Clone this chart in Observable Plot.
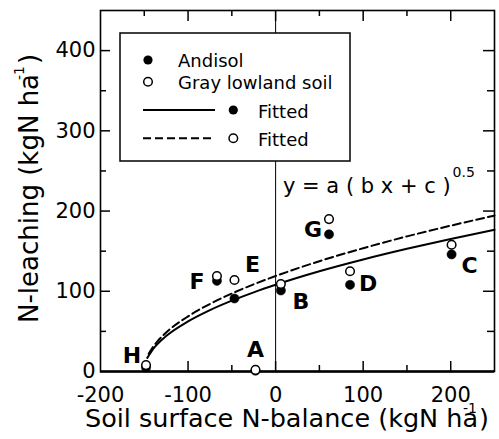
<!DOCTYPE html>
<html><head><meta charset="utf-8">
<script src="https://cdn.jsdelivr.net/npm/d3@7"></script>
<script src="https://cdn.jsdelivr.net/npm/@observablehq/plot@0.6"></script>
<style>body{margin:0;background:#fff} svg{display:block}</style>
</head><body><div id="chart"></div>
<script>
// ---- data ----
const sites = ["H", "F", "E", "A", "B", "D", "C", "G"];
const balance = [-148, -67, -47, -23, 6, 85, 201, 61];          // soil surface N-balance
const andisolLeach = [5, 113, 91, 1, 101, 108, 146, 171];        // Andisol (filled)
const grayLeach = [8, 119, 114, 2, 109, 125, 158, 190];          // Gray lowland soil (open)
// fitted curves, points
const fitAndisolX = [-146.6, -145, -140, -135, -125, -100, -75, -50, -25, 0, 50, 100, 150, 200, 250];
const fitAndisolY = [17, 19.7, 27.9, 34.2, 44.2, 62.4, 76.5, 88.3, 98.7, 108.1, 124.9, 139.6, 152.9, 165.2, 176.6];
const fitGrayX = [-145, -140, -135, -125, -100, -75, -50, -25, 0, 50, 100, 150, 200, 250];
const fitGrayY = [22, 30.7, 37.6, 48.6, 68.7, 84.2, 97.2, 108.7, 119, 137.5, 153.7, 168.4, 181.8, 194.4];
const xTickLabels = [-200, -100, 0, 100, 200];
const yTickLabels = [0, 100, 200, 300, 400];
const xTickMarks = [-150, -100, -50, 0, 50, 100, 150, 200];
const yTickMarks = [50, 100, 150, 200, 250, 300, 350, 400];
const legendLabels = ["Andisol", "Gray lowland soil", "Fitted", "Fitted"];
const xTitle = ["Soil surface N-balance (kgN ha", "-1", ")"];
const yTitle = ["N-leaching (kgN ha", "-1", ")"];
const equation = ["y = a ( b x + c )", "0.5"];

// ---- layout ----
const W = 499, H = 439, mL = 100, mR = 5, mT = 10, mB = 68;
const innerH = H - mT - mB;
const innerW = W - mL - mR;
const labelOffsets = {H: [-14, -9], F: [-20, 6], E: [18, -15], A: [0, -20], B: [20, 18], D: [18, 13], C: [18, 21], G: [-16, 11]};

const pts = sites.map((s, i) => ({site: s, x: balance[i], a: andisolLeach[i], g: grayLeach[i]}));
const curveA = fitAndisolX.map((x, i) => ({x, y: fitAndisolY[i]}));
const curveG = fitGrayX.map((x, i) => ({x, y: fitGrayY[i]}));
const isMajor = v => v % 100 === 0;

const labelMarks = sites.map(s => Plot.text(pts.filter(d => d.site === s), {
  x: "x", y: "g", text: "site", dx: labelOffsets[s][0], dy: labelOffsets[s][1],
  fontSize: 22, fontWeight: "bold", fill: "#000"
}));

const chart = Plot.plot({
  width: W, height: H, marginLeft: mL, marginRight: mR, marginTop: mT, marginBottom: mB,
  x: {domain: [-200, 250]},
  y: {domain: [0, 450]},
  style: {fontFamily: "DejaVu Sans", background: "#fff", color: "#000"},
  marks: [
    Plot.axisX(xTickLabels, {tickSize: 0, tickPadding: 16, fontSize: 21, tickFormat: d => String(d), label: null}),
    Plot.axisY(yTickLabels, {tickSize: 0, tickPadding: 5, fontSize: 21, tickFormat: d => String(d), label: null}),
    Plot.ruleX([0], {stroke: "#000", strokeWidth: 1}),
    // inward ticks
    Plot.tickX(xTickMarks.filter(isMajor), {x: d => d, insetTop: innerH - 10, stroke: "#000", strokeWidth: 1.5}),
    Plot.tickX(xTickMarks.filter(v => !isMajor(v)), {x: d => d, insetTop: innerH - 6, stroke: "#000", strokeWidth: 1.5}),
    Plot.tickX(xTickMarks.filter(isMajor), {x: d => d, insetBottom: innerH - 11, stroke: "#000", strokeWidth: 1.5}),
    Plot.tickX(xTickMarks.filter(v => !isMajor(v)), {x: d => d, insetBottom: innerH - 6, stroke: "#000", strokeWidth: 1.5}),
    Plot.tickY(yTickMarks.filter(isMajor), {y: d => d, insetRight: innerW - 10, stroke: "#000", strokeWidth: 1.5}),
    Plot.tickY(yTickMarks.filter(v => !isMajor(v)), {y: d => d, insetRight: innerW - 6, stroke: "#000", strokeWidth: 1.5}),
    Plot.tickY(yTickMarks.filter(isMajor), {y: d => d, insetLeft: innerW - 11, stroke: "#000", strokeWidth: 1.5}),
    Plot.tickY(yTickMarks.filter(v => !isMajor(v)), {y: d => d, insetLeft: innerW - 7, stroke: "#000", strokeWidth: 1.5}),
    Plot.frame({stroke: "#000", strokeWidth: 1.6}),
    Plot.ruleY([0], {stroke: "#000", strokeWidth: 2.5}),
    Plot.line(curveA, {x: "x", y: "y", curve: "monotone-x", stroke: "#000", strokeWidth: 2}),
    Plot.line(curveG, {x: "x", y: "y", curve: "monotone-x", stroke: "#000", strokeWidth: 2, strokeDasharray: "8,4"}),
    Plot.dot(pts, {x: "x", y: "a", r: 4.6, fill: "#000", stroke: "#000", strokeWidth: 0.5}),
    Plot.dot(pts, {x: "x", y: "g", r: 4.3, fill: "#fff", stroke: "#000", strokeWidth: 1.5}),
    ...labelMarks
  ]
});

// ---- annotations: legend, equation, axis titles ----
const svg = d3.select(chart);
const ann = svg.append("g").attr("font-family", "DejaVu Sans").attr("fill", "#000").attr("text-anchor", "start");

function supText(g, parts, size, supSize, supDx, supDy, afterDx) {
  const t = g.append("text").attr("font-size", size);
  t.append("tspan").text(parts[0]);
  t.append("tspan").attr("font-size", supSize).attr("dx", supDx).attr("dy", -supDy).text(parts[1]);
  if (parts[2]) t.append("tspan").attr("dy", supDy).attr("dx", afterDx).text(parts[2]);
  return t;
}

// x title
supText(ann, xTitle, 25.5, 14, -15, 14, 2).attr("x", 85).attr("y", 427);
// y title
supText(ann.append("g").attr("transform", "translate(38,323) rotate(-90)"), yTitle, 26, 14, -6, 14, 2);
// equation
const eq = ann.append("text").attr("x", 283).attr("y", 193).attr("font-size", 21);
eq.append("tspan").text(equation[0]);
eq.append("tspan").attr("font-size", 14).attr("dx", 2).attr("dy", -16).text(equation[1]);

// legend
const lg = ann.append("g");
lg.append("rect").attr("x", 120).attr("y", 33).attr("width", 230).attr("height", 128)
  .attr("fill", "#fff").attr("stroke", "#000").attr("stroke-width", 1.5);
lg.append("circle").attr("cx", 148).attr("cy", 60).attr("r", 4.6).attr("fill", "#000");
lg.append("circle").attr("cx", 148).attr("cy", 81.7).attr("r", 4.3).attr("fill", "#fff").attr("stroke", "#000").attr("stroke-width", 1.5);
lg.append("line").attr("x1", 143).attr("x2", 215).attr("y1", 110).attr("y2", 110).attr("stroke", "#000").attr("stroke-width", 2);
lg.append("circle").attr("cx", 233.3).attr("cy", 110).attr("r", 4.6).attr("fill", "#000");
lg.append("line").attr("x1", 143).attr("x2", 215).attr("y1", 138.3).attr("y2", 138.3).attr("stroke", "#000").attr("stroke-width", 2).attr("stroke-dasharray", "8,4");
lg.append("circle").attr("cx", 233.3).attr("cy", 138.3).attr("r", 4.3).attr("fill", "#fff").attr("stroke", "#000").attr("stroke-width", 1.5);
const lx = [178, 178, 258, 258], ly = [67, 88.5, 117.5, 146];
legendLabels.forEach((s, i) => lg.append("text").attr("x", lx[i]).attr("y", ly[i]).attr("font-size", 18).text(s));

document.getElementById("chart").appendChild(chart);
</script>
</body></html>
